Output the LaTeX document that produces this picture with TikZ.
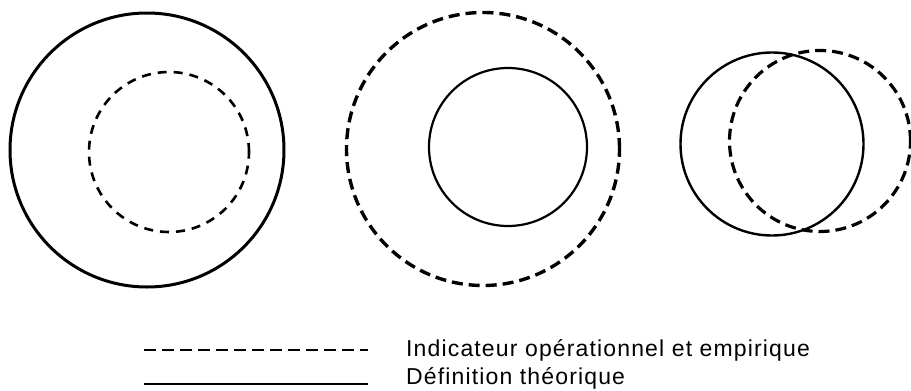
\documentclass[tikz,border=0pt]{standalone}
\usepackage{fontspec}
\setmainfont{Liberation Sans}
\newfontfamily\legfont[LetterSpace=5]{Liberation Sans}
\begin{document}
\begin{tikzpicture}[x=1pt,y=-1pt,
  ring/.style={circle, inner sep=0pt},
  solidc/.style={ring, draw=black, line width=2.6pt},
  dashc/.style={ring, draw=black, line width=3.2pt, dash pattern=on 11pt off 6pt},
  legtext/.style={anchor=base west, inner sep=0pt, font=\legfont\fontsize{23}{27}\selectfont}]
\useasboundingbox (0,0) rectangle (911,391);
% group 1
\node[solidc, minimum size=274pt, line width=3pt] (c1s) at (147,150) {};
\node[dashc, minimum size=160pt, line width=2.6pt, dash pattern=on 9pt off 7pt] (c1d) at (169,152) {};
% group 2
\node[dashc, minimum size=273pt, line width=3.4pt] (c2d) at (483,149) {};
\node[solidc, minimum size=158pt, line width=2.2pt] (c2s) at (508,147) {};
% group 3
\node[solidc, minimum size=183pt, line width=2.4pt] (c3s) at (772,144) {};
\node[dashc, minimum size=181pt] (c3d) at (820,141) {};
% legend
\coordinate (l1a) at (144,350);
\coordinate (l1b) at (368,350);
\coordinate (l2a) at (144,384);
\coordinate (l2b) at (368,384);
\draw[line width=2pt, dash pattern=on 12pt off 6pt] (l1a) -- (l1b);
\draw[line width=2pt] (l2a) -- (l2b);
\node[legtext] (t1) at (406,356) {Indicateur opérationnel et empirique};
\node[legtext] (t2) at (406,384) {Définition théorique};
\end{tikzpicture}
\end{document}
